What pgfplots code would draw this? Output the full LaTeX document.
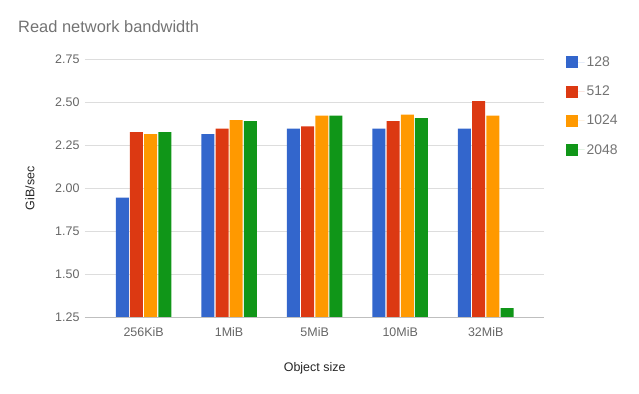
\documentclass[border=0pt]{standalone}
\usepackage{pgfplots}
\pgfplotsset{compat=1.18}
\usepackage{fontspec}
\setmainfont{Liberation Sans}
\definecolor{gblue}{HTML}{3366CC}
\definecolor{gred}{HTML}{DC3912}
\definecolor{gorange}{HTML}{FF9900}
\definecolor{ggreen}{HTML}{109618}
\definecolor{txt}{HTML}{666666}
\definecolor{gridcol}{HTML}{DDDDDD}
\begin{document}
\begin{tikzpicture}[x=1bp,y=1bp]
\path[use as bounding box] (-85bp,-76.3bp) rectangle (554bp,317.7bp);
\node[anchor=base west, font=\fontsize{16.5}{19}\selectfont, text=black!55, inner sep=0pt] at (-67bp,284.7bp) {Read network bandwidth};
\begin{axis}[
  at={(0,0)}, anchor=south west,
  scale only axis, width=459.3bp, height=258.7bp,
  xmin=-0.685, xmax=4.685, ymin=1.25, ymax=2.75,
  ytick={1.25,1.5,1.75,2,2.25,2.5,2.75},
  yticklabel style={/pgf/number format/fixed, /pgf/number format/fixed zerofill, /pgf/number format/precision=2},
  /pgf/number format/assume math mode=true,
  xtick={0,1,2,3,4},
  xticklabels={256KiB,1MiB,5MiB,10MiB,32MiB},
  tick style={draw=none},
  xmajorgrids=false, ymajorgrids=true, grid style={draw=gridcol, line width=0.9pt},
  axis line style={draw=none},
  ticklabel style={font=\fontsize{12.5}{14}\selectfont, text=txt},
  yticklabel style={xshift=-2bp},
  xticklabel style={yshift=-2bp},
  ylabel={GiB/sec}, ylabel style={font=\fontsize{12.5}{14}\selectfont, text=black!85, at={(-55bp,0.5)}, anchor=center},
  xlabel={Object size}, xlabel style={font=\fontsize{12.5}{14}\selectfont, text=black!85, at={(0.5,-54bp)}, anchor=base},
  ybar=1.2bp, bar width=13bp,
  legend style={at={(1,1)}, anchor=north west, xshift=21bp, yshift=4.5bp, draw=none, fill=none,
    font=\fontsize{14}{16}\selectfont, text=black!55, row sep=14bp,
    legend cell align=left, inner sep=0pt},
  legend image code/.code={\fill[#1] (0bp,-6bp) rectangle (12bp,6bp); \path (0bp,0bp) -- (19bp,0bp);},
]
\addplot[fill=gblue, draw=none] coordinates {(0,1.946) (1,2.315) (2,2.346) (3,2.346) (4,2.346)};
\addplot[fill=gred, draw=none] coordinates {(0,2.326) (1,2.346) (2,2.359) (3,2.39) (4,2.506)};
\addplot[fill=gorange, draw=none] coordinates {(0,2.315) (1,2.396) (2,2.421) (3,2.427) (4,2.421)};
\addplot[fill=ggreen, draw=none] coordinates {(0,2.326) (1,2.39) (2,2.421) (3,2.407) (4,1.306)};
\legend{128,512,1024,2048}
\draw[black!25, line width=0.9pt] (axis cs:-0.685,1.25) -- (axis cs:4.685,1.25);
\end{axis}
\end{tikzpicture}
\end{document}
